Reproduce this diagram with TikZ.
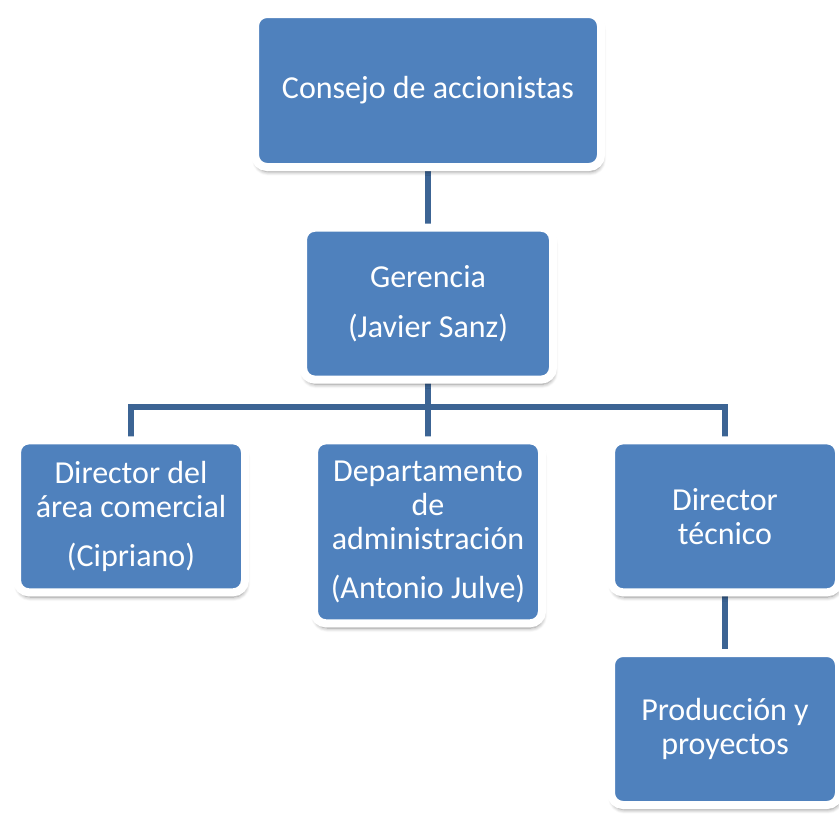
\documentclass[tikz,border=0pt]{standalone}
\usepackage{fontspec}
\setmainfont{Carlito}
\usetikzlibrary{positioning,shadows.blur,backgrounds}
\definecolor{cajaazul}{HTML}{4F81BD}
\definecolor{lineaazul}{HTML}{3C6494}

\begin{document}
\begin{tikzpicture}[node distance=45.5pt,
	caja/.style={rectangle, rounded corners=9pt, fill=cajaazul, draw=white, line width=6pt,
		text=white, align=center, inner sep=0pt, outer sep=0pt,
		font=\fontsize{24}{25.5}\selectfont, minimum width=171pt, minimum height=114pt,
		blur shadow={shadow blur steps=6, shadow xshift=0.8pt, shadow yshift=-3.5pt, shadow opacity=45, shadow blur radius=3pt}},
	conector/.style={draw=lineaazul, line width=4.5pt}]
	\useasboundingbox (0,0) rectangle (629.25pt,-610.5pt);
	
	% vedení
	\node[caja, minimum width=259.5pt, minimum height=114.75pt] (consejo) at (321pt,-67.875pt) {Consejo de accionistas};
	\node[caja, minimum width=187.5pt, below=of consejo] (gerencia) {Gerencia\\[12pt](Javier Sanz)};
	
	% oddělení
	\node[caja, below=of gerencia, xshift=-222.75pt] (comercial) {Director del\\área comercial\\[11pt](Cipriano)};
	\node[caja, minimum height=137.25pt, below=of gerencia] (admin) {Departamento\\de\\administración\\[11pt](Antonio Julve)};
	\node[caja, below=of gerencia, xshift=222.75pt] (tecnico) {Director\\técnico};
	\node[caja, below=of tecnico] (produccion) {Producción y\\proyectos};
	
	% spojnice
	\coordinate (bus) at ([yshift=-20.25pt]gerencia.south);
	\begin{scope}[on background layer]
		\draw[conector] (consejo) -- (gerencia);
		\draw[conector] (gerencia) -- (admin);
		\draw[conector] (comercial) |- (bus) -| (tecnico);
		\draw[conector] (tecnico) -- (produccion);
	\end{scope}
\end{tikzpicture}
\end{document}
